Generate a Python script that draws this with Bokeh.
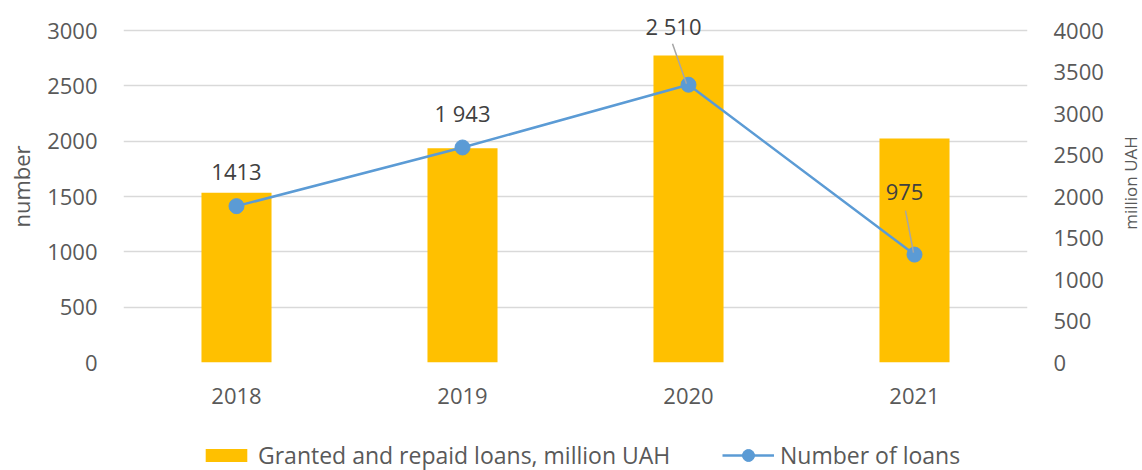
import math
from bokeh.plotting import figure
from bokeh.layouts import column, row
from bokeh.models import (Range1d, LinearAxis, FixedTicker, Legend, LegendItem,
                          ColumnDataSource)
from bokeh.embed import file_html
from bokeh.resources import INLINE

years = ["2018", "2019", "2020", "2021"]
loans_uah = [2045, 2580, 3700, 2700]          # bars, right axis (million UAH)
loans_number = [1413, 1943, 2510, 975]        # line, left axis (number)
number_labels = ["1413", "1 943", "2 510", "975"]

FONT = "Open Sans"
TICK_COLOR = "#595959"
GRID_COLOR = "#d9d9d9"
BAR_COLOR = "#ffc000"
LINE_COLOR = "#5b9bd5"

xs = list(range(len(years)))

# layout (pixels)
FRAME_TOP = 10
BOTTOM = 78
MAIN_H = 440
AXIS_PX = 332              # pixel height of 0..3000 on the left axis
TOP_PAD = 20               # extra pixels above the 3000 gridline
left_max = 3000 * (AXIS_PX + TOP_PAD) / AXIS_PX
right_max = 4000 * (AXIS_PX + TOP_PAD) / AXIS_PX

p = figure(width=1115, height=MAIN_H, output_backend="svg", toolbar_location=None,
           x_range=Range1d(-0.5, 3.5), y_range=Range1d(0, left_max),
           min_border_left=123, min_border_right=88, min_border_top=FRAME_TOP,
           min_border_bottom=BOTTOM)
p.outline_line_color = None
p.background_fill_color = "white"
p.border_fill_color = "white"

p.extra_y_ranges = {"uah": Range1d(0, right_max)}

# bars (right axis)
bar_src = ColumnDataSource(dict(x=xs, top=loans_uah))
p.vbar(x="x", top="top", width=0.31, source=bar_src, y_range_name="uah",
       fill_color=BAR_COLOR, line_color=None)

# line (left axis)
line_src = ColumnDataSource(dict(x=xs, y=loans_number, lab=number_labels,
                                 xo=[0, 0, -15, -10], yo=[-34, -34, -59, -63]))
p.line(x="x", y="y", source=line_src, line_color=LINE_COLOR, line_width=2.5)
p.scatter(x="x", y="y", source=line_src, size=15, fill_color=LINE_COLOR,
          line_color=LINE_COLOR)

# leader lines for 2020 and 2021 labels (pixel offsets converted to data units)
px_x = 1.0 / 226.0          # x data units per pixel
px_y = 3000.0 / AXIS_PX     # y data units per pixel
lead_idx = [2, 3]
lead_x0 = [xs[i] + dx * px_x for i, dx in zip(lead_idx, [-16, -9])]
lead_y0 = [loans_number[i] + dy * px_y for i, dy in zip(lead_idx, [41, 44])]
lead_x1 = [xs[i] + dx * px_x for i, dx in zip(lead_idx, [-2, -1])]
lead_y1 = [loans_number[i] + dy * px_y for i, dy in zip(lead_idx, [1, 2])]
p.segment(x0=lead_x0, y0=lead_y0, x1=lead_x1, y1=lead_y1,
          line_color="#a6a6a6", line_width=1.5)

p.text(x="x", y="y", text="lab", source=line_src, x_offset="xo", y_offset="yo",
       text_font={"value": FONT}, text_font_size="22px", text_color="#404040",
       text_align="center", text_baseline="middle")

# axes
ax = p.xaxis[0]
ax.ticker = FixedTicker(ticks=xs)
ax.major_label_overrides = {i: y for i, y in zip(xs, years)}
ax.axis_line_color = None
ax.major_tick_line_color = None
ax.minor_tick_line_color = None
ax.major_tick_out = 0
ax.major_label_text_font = FONT
ax.major_label_text_font_size = "22px"
ax.major_label_text_color = TICK_COLOR
ax.major_label_standoff = 25

ly = p.yaxis[0]
ly.ticker = FixedTicker(ticks=[0, 500, 1000, 1500, 2000, 2500, 3000])
ly.axis_line_color = None
ly.major_tick_line_color = None
ly.minor_tick_line_color = None
ly.major_tick_out = 0
ly.major_label_text_font = FONT
ly.major_label_text_font_size = "22px"
ly.major_label_text_color = TICK_COLOR
ly.major_label_standoff = 26
ly.axis_label = "number"
ly.axis_label_text_font = FONT
ly.axis_label_text_font_size = "22px"
ly.axis_label_text_font_style = "normal"
ly.axis_label_text_color = TICK_COLOR
ly.axis_label_standoff = 8

ry = LinearAxis(y_range_name="uah",
                ticker=FixedTicker(ticks=[0, 500, 1000, 1500, 2000, 2500, 3000, 3500, 4000]))
ry.axis_line_color = None
ry.major_tick_line_color = None
ry.minor_tick_line_color = None
ry.major_tick_out = 0
ry.major_label_text_font = FONT
ry.major_label_text_font_size = "22px"
ry.major_label_text_color = TICK_COLOR
ry.major_label_standoff = 26
p.add_layout(ry, "right")

p.xgrid.grid_line_color = None
p.ygrid.grid_line_color = GRID_COLOR
p.ygrid.grid_line_width = 1.5

# right axis title (narrow strip to the right of the chart, reads bottom-to-top)
lr = figure(width=27, height=MAIN_H, output_backend="svg", toolbar_location=None,
            x_range=Range1d(0, 1), y_range=Range1d(0, 1),
            x_axis_location=None, y_axis_location=None,
            min_border_left=0, min_border_right=0, min_border_top=FRAME_TOP,
            min_border_bottom=BOTTOM)
lr.grid.visible = False
lr.outline_line_color = None
lr.border_fill_color = "white"
lr.text(x=[0.57], y=[0.51], text=["million UAH"], angle=math.pi / 2,
        text_font={"value": FONT}, text_font_size="17px", text_color=TICK_COLOR,
        text_align="center", text_baseline="middle")

# legend strip below the chart; its renderers reuse the chart data but are
# hidden, so only the legend entries are drawn here
lg = figure(width=1142, height=30, output_backend="svg", toolbar_location=None,
            x_range=Range1d(-0.5, 3.5), y_range=Range1d(0, left_max),
            x_axis_location=None, y_axis_location=None,
            min_border_left=123, min_border_right=0, min_border_top=0,
            min_border_bottom=0)
lg.grid.visible = False
lg.outline_line_color = None
lg.border_fill_color = "white"
lb = lg.vbar(x="x", top="top", width=0.31, source=bar_src,
             fill_color=BAR_COLOR, line_color=None, visible=False)
ll = lg.line(x="x", y="y", source=line_src, line_color=LINE_COLOR, line_width=2.5,
             visible=False)
lm = lg.scatter(x="x", y="y", source=line_src, size=15, fill_color=LINE_COLOR,
                line_color=LINE_COLOR, visible=False)


def style_legend(lgd, glyph_h):
    lgd.label_text_font = FONT
    lgd.label_text_font_size = "23px"
    lgd.label_text_color = TICK_COLOR
    lgd.glyph_width = 52
    lgd.glyph_height = glyph_h
    lgd.label_standoff = 6
    lgd.padding = 0
    lgd.margin = 0
    lgd.border_line_color = None
    lgd.background_fill_alpha = 0
    lgd.inactive_fill_alpha = 0


leg1 = Legend(items=[LegendItem(label="Granted and repaid loans, million UAH",
                                renderers=[lb])],
              orientation="horizontal", location=(77, -1))
style_legend(leg1, 16)
leg2 = Legend(items=[LegendItem(label="Number of loans", renderers=[ll, lm])],
              orientation="horizontal", location=(599, -1))
style_legend(leg2, 30)
lg.add_layout(leg1, "center")
lg.add_layout(leg2, "center")

layout = column(row(p, lr, spacing=0), lg, spacing=0)
open("out.html", "w").write(file_html(layout, INLINE))
